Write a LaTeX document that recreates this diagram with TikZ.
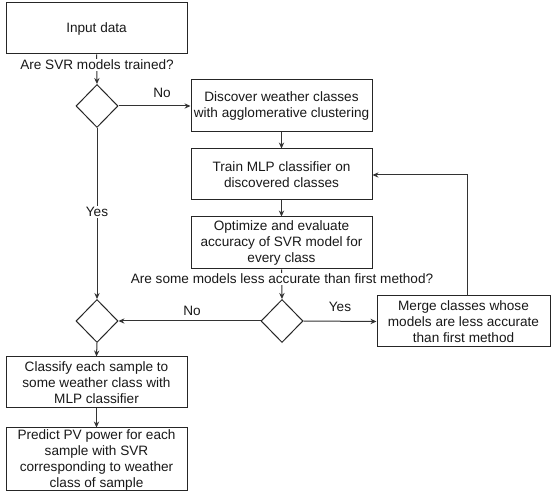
\documentclass[tikz,border=0pt]{standalone}
\usepackage{fontspec}
\setmainfont{Liberation Sans}
\usetikzlibrary{shapes.geometric,arrows.meta}
\begin{document}
\begin{tikzpicture}[x=0.75pt,y=-0.75pt,
  every node/.style={font=\fontsize{10.2}{12}\selectfont, text=black!90},
  box/.style={draw=black!85, line width=0.75pt, rectangle, inner sep=0pt, align=center},
  dec/.style={draw=black!85, line width=0.75pt, diamond, inner sep=0pt, minimum width=31.5pt, minimum height=32.25pt},
  conn/.style={draw=black!80, line width=0.75pt, -{Stealth[length=4.5pt,width=4pt]}},
  lab/.style={fill=white, inner sep=1pt}]
\useasboundingbox (0,0) rectangle (551,495);
\fill[white] (0,0) rectangle (551,495);
\node[box, minimum width=135.75pt, minimum height=38.25pt] (in) at (96.5,28.5) {Input data};
\node[dec] (d1) at (97,106) {};
\node[box, minimum width=135.75pt, minimum height=39pt] (disc) at (281.5,106) {Discover weather classes\\with agglomerative clustering};
\node[box, minimum width=135.75pt, minimum height=38.25pt] (train) at (281.5,174.5) {Train MLP classifier on\\discovered classes};
\node[box, minimum width=135.75pt, minimum height=39pt] (opt) at (281.5,243) {Optimize and evaluate\\accuracy of SVR model for\\every class};
\node[dec] (d2) at (282,321) {};
\node[box, minimum width=129.75pt, minimum height=38.25pt] (merge) at (463.5,321.5) {Merge classes whose\\models are less accurate\\than first method};
\node[dec] (d3) at (97,321) {};
\node[box, minimum width=135.75pt, minimum height=38.25pt] (cls) at (96.5,382.5) {Classify each sample to\\some weather class with\\MLP classifier};
\node[box, minimum width=135.75pt, minimum height=47.25pt] (pred) at (96.5,459.5) {Predict PV power for each\\sample with SVR\\corresponding to weather\\class of sample};
\coordinate (mtop) at (467,296);
\coordinate (tr) at (467,175);
\draw[conn] (in.south) -- (d1.north);
\node[lab] (q1) at (97,65) {Are SVR models trained?};
\draw[conn] (d1.east) -- (disc.west);
\node (no1) at (162,93) {No};
\draw[conn] (disc.south) -- (train.north);
\draw[conn] (train.south) -- (opt.north);
\draw[conn] (opt.south) -- (d2.north);
\node[lab] (q2) at (282,279) {Are some models less accurate than first method?};
\draw[conn] (d1.south) -- (d3.north);
\node[lab] (yes1) at (97,212) {Yes};
\draw[conn] (d2.west) -- (d3.east);
\node (no2) at (192,311) {No};
\draw[conn] (d2.east) -- (merge.west);
\node (yes2) at (340,307) {Yes};
\draw[conn] (mtop) -- (tr) -- (train.east |- tr);
\draw[conn] (d3.south) -- (cls.north);
\draw[conn] (cls.south) -- (pred.north);
\end{tikzpicture}
\end{document}
